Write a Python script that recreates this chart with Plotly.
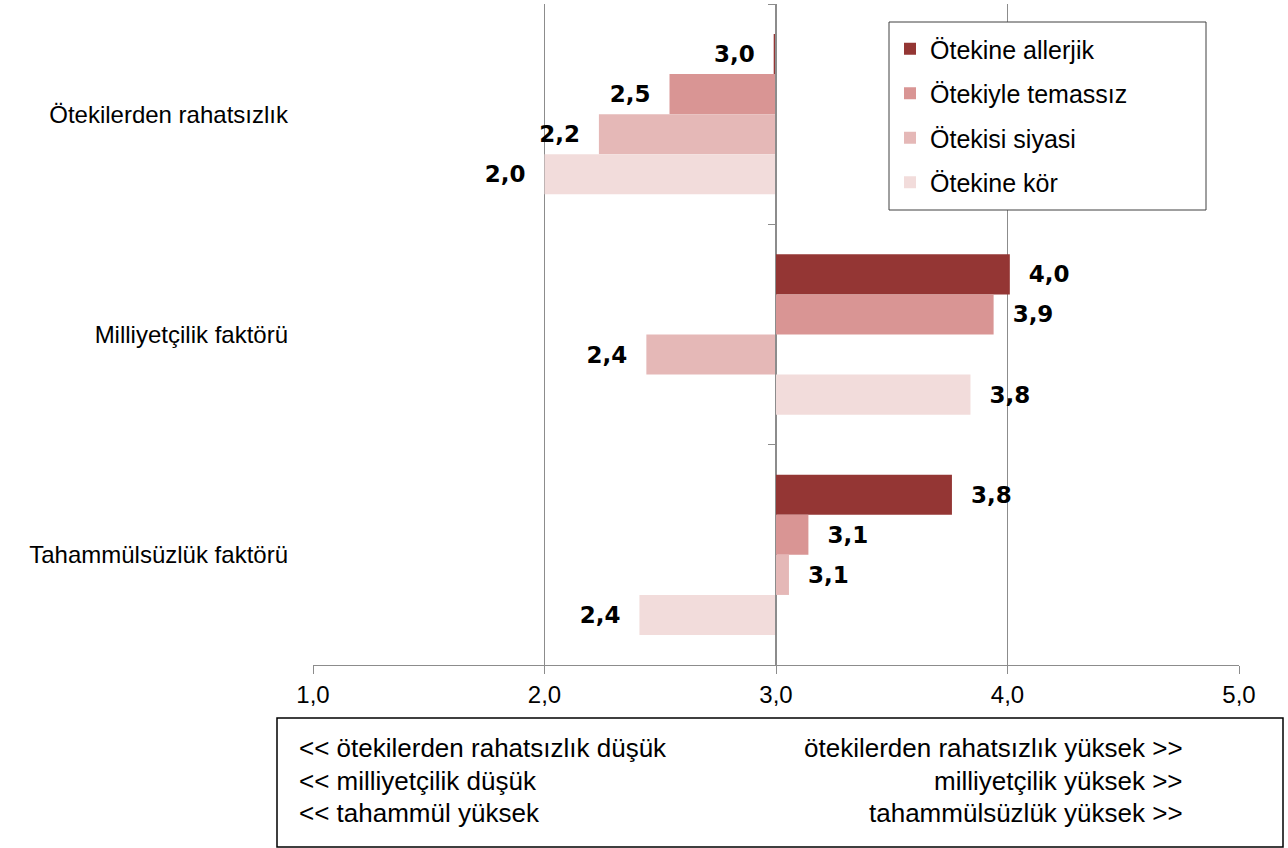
import plotly.graph_objects as go

categories = ["Ötekilerden rahatsızlık", "Milliyetçilik faktörü", "Tahammülsüzlük faktörü"]
series_names = ["Ötekine allerjik", "Ötekiyle temassız", "Ötekisi siyasi", "Ötekine kör"]
colors = ["#943634", "#D99594", "#E5B8B7", "#F2DCDB"]

allerjik = [2.99, 4.01, 3.76]
temassiz = [2.54, 3.94, 3.14]
siyasi = [2.235, 2.44, 3.056]
kor = [2.0, 3.84, 2.41]
series_values = [allerjik, temassiz, siyasi, kor]

BASE = 3.0
x_ticks = [1.0, 2.0, 3.0, 4.0, 5.0]

left_notes = ["<< ötekilerden rahatsızlık düşük", "<< milliyetçilik düşük", "<< tahammül yüksek"]
right_notes = ["ötekilerden rahatsızlık yüksek >>", "milliyetçilik yüksek >>", "tahammülsüzlük yüksek >>"]

TXT = "Liberation Sans"
LBL = "DejaVu Sans"
GRID = "#8C8C8C"
NB = "\u00a0\u00a0"

fig = go.Figure()
for i, (name, vals, col) in enumerate(zip(series_names, series_values, colors)):
    tmpl = [(NB + "%{customdata:.1f}") if v >= BASE else ("%{customdata:.1f}" + NB) for v in vals]
    fig.add_trace(go.Bar(
        y=categories, x=[v - BASE for v in vals], base=BASE, customdata=vals,
        orientation="h", name=name, marker=dict(color=col, line=dict(width=0)),
        texttemplate=tmpl, textposition="outside", constraintext="none", cliponaxis=False,
        textfont=dict(family=LBL, size=23, color="black", weight="bold"),
        legendgroup=name, hoverinfo="skip",
    ))

# invisible trace carrying the category-boundary tick axis drawn at x=3
fig.add_trace(go.Scatter(x=[BASE], y=[0], yaxis="y2", mode="markers",
                         marker=dict(opacity=0), showlegend=False, hoverinfo="skip"))

W, H = 1288, 848
L, R, T, B = 313, 49, 4, 183
pw, ph = W - L - R, H - T - B

def px_x(p):
    return (p - L) / pw

def px_y(p):
    return (H - B - p) / ph

fig.update_layout(
    width=W, height=H, margin=dict(l=L, r=R, t=T, b=B),
    paper_bgcolor="white", plot_bgcolor="white",
    barmode="group", bargap=0.272, bargroupgap=0,
    separators=",.",
    font=dict(family=TXT, size=24, color="black"),
    xaxis=dict(range=[1, 5], tickvals=x_ticks, tickformat=".1f", showgrid=True,
               gridcolor=GRID, gridwidth=1, zeroline=False, showline=True, linecolor=GRID,
               ticks="outside", ticklen=8, tickcolor=GRID, tickfont=dict(family=TXT, size=24)),
    yaxis=dict(autorange="reversed", showgrid=False, zeroline=False, showline=False,
               ticks="", ticklabelstandoff=24, tickfont=dict(family=TXT, size=24)),
    yaxis2=dict(overlaying="y", anchor="free", position=px_x(775), side="left",
                range=[2.5, -0.5], tickvals=[-0.5, 0.5, 1.5, 2.5], showticklabels=False,
                ticks="outside", ticklen=7, tickcolor=GRID, showline=True, linecolor=GRID,
                showgrid=False, zeroline=False),
    legend=dict(x=px_x(890), y=px_y(26), xanchor="left", yanchor="top",
                bgcolor="rgba(0,0,0,0)", borderwidth=0,
                traceorder="grouped", tracegroupgap=9,
                font=dict(family=TXT, size=25)),
    showlegend=True,
)

# legend frame
fig.add_shape(type="rect", xref="paper", yref="paper",
              x0=px_x(889), x1=px_x(1206), y0=px_y(210), y1=px_y(22),
              line=dict(color="#404040", width=1), fillcolor="white", layer="above")

# bottom explanation box
fig.add_shape(type="rect", xref="paper", yref="paper",
              x0=px_x(277), x1=px_x(1283), y0=px_y(718), y1=px_y(847),
              line=dict(color="black", width=1.5), fillcolor="white")

line_y = [748, 781, 813]
for txt, yy in zip(left_notes, line_y):
    fig.add_annotation(text=txt, xref="paper", yref="paper", x=px_x(297), y=px_y(yy),
                       xanchor="left", yanchor="middle", showarrow=False,
                       font=dict(family=TXT, size=26, color="black"))
for txt, yy in zip(right_notes, line_y):
    fig.add_annotation(text=txt, xref="paper", yref="paper", x=px_x(1185), y=px_y(yy),
                       xanchor="right", yanchor="middle", showarrow=False,
                       font=dict(family=TXT, size=26, color="black"))

fig.write_html("out.html", config={"displayModeBar": False},
               post_script="document.body.style.margin='0px';")
